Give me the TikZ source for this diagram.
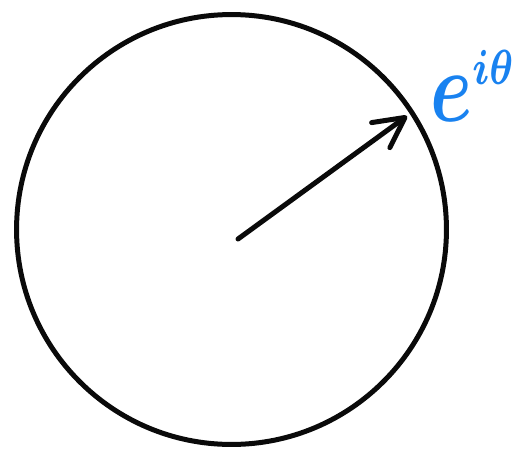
\documentclass[tikz,border=0pt]{standalone}
\usepackage{amsmath,amssymb}
\usepackage{tikz}
\usetikzlibrary{arrows.meta,positioning,calc}
\definecolor{circcolor}{RGB}{10,10,10}
\definecolor{labcolor}{RGB}{25,130,240}

\begin{document}
\begin{tikzpicture}[x=0.02cm, y=-0.02cm, line width=0.1cm, line cap=round, line join=round]
    \useasboundingbox (0,0) rectangle (513,453);
    % Unit circle
    \coordinate (origin) at (231.5,229.5);
    \draw[circcolor] (origin) circle [radius=4.3cm];
    % Radius vector
    \coordinate (tip) at (407,116);
    \coordinate (start) at (238,239);
    \draw[circcolor, -{Straight Barb[length=0.6cm, width=0.62cm, round]}] (start) -- (tip);
    % Label
    \node[labcolor, anchor=base west, inner sep=0pt, xscale=3.0, yscale=4.0, font=\fontsize{14.4}{14.4}\selectfont\boldmath] (lab) at (423,121) {$e^{\scriptscriptstyle i\theta}$};
\end{tikzpicture}
\end{document}
